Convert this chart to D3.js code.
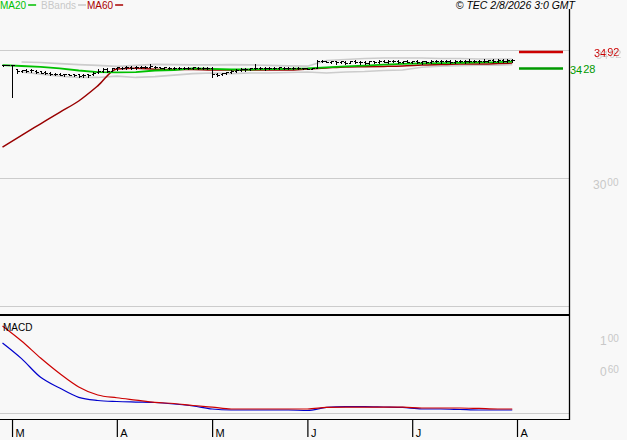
<!DOCTYPE html>
<html><head><meta charset="utf-8">
<script src="https://cdn.jsdelivr.net/npm/d3@7/dist/d3.min.js"></script>
<style>
html,body{margin:0;padding:0;background:#f8f8f8;}
svg{display:block;font-family:"Liberation Sans",Arial,sans-serif;}
</style></head><body>
<svg id="c" width="627" height="440"></svg>
<script>
// ---- data ----
const open  = [34.41,34.41,34.41,34.24,34.20,34.22,34.21,34.20,34.17,34.15,34.12,34.08,34.07,34.06,34.06,34.05,34.05,34.02,34.06,34.05,
34.16,34.20,34.24,34.20,34.28,34.30,34.32,34.33,34.32,34.34,34.33,34.34,34.35,34.32,34.31,34.31,34.30,34.31,34.29,34.30,
34.29,34.31,34.30,34.30,34.30,34.06,34.06,34.10,34.14,34.20,34.22,34.24,34.26,34.28,34.29,34.28,34.30,34.29,34.30,34.31,
34.30,34.31,34.29,34.28,34.29,34.27,34.30,34.58,34.56,34.55,34.56,34.52,34.55,34.50,34.57,34.53,34.55,34.50,34.56,34.53,
34.58,34.55,34.59,34.56,34.53,34.57,34.55,34.57,34.52,34.56,34.53,34.58,34.56,34.59,34.57,34.55,34.58,34.57,34.59,34.58,
34.56,34.59,34.57,34.60,34.58,34.61,34.59,34.60];
const high  = [34.43,34.43,34.42,34.25,34.23,34.24,34.24,34.22,34.20,34.18,34.14,34.10,34.09,34.08,34.08,34.06,34.08,34.06,34.08,34.14,
34.24,34.28,34.28,34.30,34.34,34.35,34.36,34.38,34.36,34.38,34.37,34.45,34.38,34.35,34.34,34.33,34.33,34.34,34.33,34.33,
34.34,34.34,34.33,34.32,34.32,34.10,34.12,34.16,34.22,34.26,34.28,34.30,34.30,34.45,34.33,34.32,34.34,34.33,34.34,34.34,
34.33,34.34,34.32,34.31,34.31,34.31,34.61,34.60,34.58,34.58,34.59,34.58,34.58,34.59,34.60,34.58,34.58,34.58,34.59,34.60,
34.61,34.60,34.62,34.60,34.58,34.60,34.59,34.60,34.58,34.59,34.60,34.62,34.60,34.62,34.61,34.60,34.62,34.61,34.63,34.62,
34.61,34.63,34.62,34.64,34.63,34.64,34.63,34.64];
const low   = [34.39,34.40,33.16,34.12,34.14,34.16,34.13,34.12,34.10,34.08,34.04,34.02,34.01,34.00,34.01,33.98,33.95,33.95,33.96,34.02,
34.12,34.16,34.14,34.18,34.22,34.24,34.26,34.27,34.25,34.30,34.30,34.31,34.30,34.28,34.27,34.26,34.26,34.27,34.24,34.25,
34.25,34.26,34.24,34.26,33.95,33.97,34.02,34.06,34.10,34.16,34.18,34.20,34.22,34.24,34.24,34.23,34.25,34.24,34.26,34.26,
34.25,34.26,34.25,34.24,34.25,34.24,34.29,34.54,34.53,34.50,34.47,34.48,34.46,34.48,34.49,34.47,34.46,34.47,34.48,34.50,
34.52,34.50,34.52,34.49,34.50,34.52,34.49,34.48,34.47,34.50,34.50,34.52,34.51,34.53,34.50,34.50,34.52,34.51,34.53,34.52,
34.51,34.53,34.52,34.54,34.53,34.55,34.54,34.55];
const close = [34.41,34.41,34.40,34.17,34.21,34.18,34.22,34.15,34.12,34.12,34.06,34.06,34.04,34.06,34.03,34.04,33.99,34.04,34.02,34.12,
34.20,34.26,34.18,34.28,34.32,34.30,34.34,34.30,34.34,34.35,34.34,34.36,34.33,34.31,34.32,34.29,34.31,34.30,34.31,34.28,
34.32,34.30,34.29,34.30,34.05,34.04,34.10,34.13,34.20,34.22,34.25,34.27,34.28,34.30,34.28,34.30,34.29,34.31,34.32,34.29,
34.31,34.30,34.28,34.29,34.27,34.28,34.58,34.56,34.55,34.56,34.52,34.56,34.50,34.57,34.52,34.55,34.50,34.56,34.53,34.58,
34.55,34.59,34.56,34.53,34.57,34.55,34.57,34.52,34.56,34.53,34.58,34.56,34.59,34.57,34.55,34.58,34.57,34.59,34.58,34.56,
34.59,34.57,34.60,34.58,34.61,34.59,34.60,34.61];

const indIdx  = [0,4,8,12,16,20,24,28,32,36,40,44,48,52,56,60,64,68,72,76,80,84,88,92,96,100,104,107];
const ma20    = [34.41,34.375,34.34,34.285,34.20,34.14,34.13,34.14,34.20,34.22,34.28,34.26,34.24,34.24,34.25,34.26,34.28,34.32,34.36,34.39,34.43,34.46,34.48,34.49,34.50,34.52,34.53,34.55];
const ma60    = [31.21,31.67,32.12,32.57,33.01,33.60,34.26,34.29,34.25,34.24,34.24,34.22,34.22,34.22,34.22,34.22,34.26,34.30,34.34,34.35,34.36,34.375,34.41,34.43,34.45,34.45,34.47,34.49];
const bbUpper = [null,34.53,34.51,34.47,34.43,34.40,34.36,34.40,34.44,34.43,34.42,34.42,34.43,34.42,34.40,34.38,34.37,34.59,34.63,34.67,34.69,34.69,34.69,34.67,34.67,34.65,34.65,34.65];
const bbLower = [null,34.14,34.06,33.98,33.93,33.93,33.98,33.93,33.96,34.02,34.08,34.10,34.08,34.10,34.10,34.12,34.14,34.10,34.14,34.16,34.20,34.22,34.33,34.37,34.39,34.41,34.41,34.43];
const macdLine   = [0.897,0.695,0.454,0.316,0.195,0.155,0.142,0.135,0.129,0.11,0.084,0.045,0.032,0.032,0.032,0.032,0.026,0.065,0.077,0.077,0.071,0.065,0.045,0.045,0.039,0.032,0.032,0.032];
const signalLine = [1.116,0.922,0.703,0.503,0.33,0.226,0.19,0.16,0.13,0.116,0.09,0.07,0.045,0.045,0.045,0.045,0.045,0.065,0.07,0.07,0.07,0.07,0.058,0.058,0.058,0.052,0.045,0.045];

const monthIdx    = [2,24,44,64,86,108];
const monthLabels = ["M","A","M","J","J","A"];
const priceGrid   = [25,30,35];
const priceLabelTicks = [30];
const macdLabelTicks  = [1.0,0.6];
const levelValues = [34.92,34.28];
const legendNames = ["MA20","BBands","MA60"];
const stampText = "© TEC 2/8/2026 3:0 GMT";

// ---- scales ----
const svg = d3.select("#c");
const plotRight = 569;
const x  = d3.scaleLinear().domain([0,108]).range([2.5,517]);
const yP = d3.scaleLinear().domain([25,35]).range([306.3,50]);
const yM = d3.scaleLinear().domain([0,1]).range([412.5,335]);

svg.append("rect").attr("width",627).attr("height",440).attr("fill","#f8f8f8");

// shadow filter for the red level label
const defs = svg.append("defs");
const f = defs.append("filter").attr("id","sh").attr("x","-20%").attr("y","-20%").attr("width","150%").attr("height","150%");
f.append("feOffset").attr("in","SourceAlpha").attr("dx",2).attr("dy",1.5).attr("result","off");
f.append("feFlood").attr("flood-color","#cccccc").attr("result","col");
f.append("feComposite").attr("in","col").attr("in2","off").attr("operator","in").attr("result","shadow");
const fm = f.append("feMerge");
fm.append("feMergeNode").attr("in","shadow");
fm.append("feMergeNode").attr("in","SourceGraphic");

// price gridlines via axis
const gAx = svg.append("g").attr("transform",`translate(${plotRight},0)`)
  .call(d3.axisLeft(yP).tickValues(priceGrid).tickSize(plotRight).tickFormat(""));
gAx.select(".domain").remove();
gAx.selectAll(".tick line").attr("stroke","#cccccc").attr("shape-rendering","crispEdges");

// macd zero gridline
const gM = svg.append("g").attr("transform",`translate(${plotRight},0)`)
  .call(d3.axisLeft(yM).tickValues([0]).tickSize(plotRight).tickFormat(""));
gM.select(".domain").remove();
gM.selectAll(".tick line").attr("stroke","#cccccc").attr("shape-rendering","crispEdges");

// helper: number with raised decimals
function supNum(g, v, xPos, yBase, fill, big, small, rise){
  const s = v.toFixed(2).split(".");
  const t = g.append("text").attr("x",xPos).attr("y",yBase).attr("fill",fill).attr("font-size",big);
  t.append("tspan").text(s[0]);
  t.append("tspan").attr("font-size",small).attr("dx",1).attr("dy",-rise).text(s[1]);
  return t;
}
// price labels
priceLabelTicks.forEach(v=>supNum(svg, v, 593, yP(v)+11, "#c8c8c8", 12, 10, 3));
// macd labels
macdLabelTicks.forEach(v=>supNum(svg, v, 600, yM(v)+9.5, "#c8c8c8", 12, 10, 3));

// bollinger bands
const lineP = (arr, curve)=> d3.line().defined(d=>d!=null).curve(curve||d3.curveLinear).x((d,i)=>x(indIdx[i])).y(d=>yP(d))(arr);
svg.append("path").attr("d",lineP(bbUpper)).attr("fill","none").attr("stroke","#cccccc").attr("stroke-width",1.6);
svg.append("path").attr("d",lineP(bbLower)).attr("fill","none").attr("stroke","#cccccc").attr("stroke-width",1.6);
// MA lines
svg.append("path").attr("d",lineP(ma60, d3.curveMonotoneX)).attr("fill","none").attr("stroke","#990000").attr("stroke-width",1.5);
svg.append("path").attr("d",lineP(ma20)).attr("fill","none").attr("stroke","#00c000").attr("stroke-width",1.8);

// OHLC bars
const bars = svg.append("g").attr("stroke","#000").attr("stroke-width",1).attr("shape-rendering","crispEdges").attr("fill","none");
close.forEach((c,i)=>{
  const cx = Math.round(x(i))+0.5;
  const p = `M${cx},${Math.round(yP(high[i]))}V${Math.round(yP(low[i]))+1}`+
            `M${cx-2},${Math.round(yP(open[i]))+0.5}H${cx}`+
            `M${cx},${Math.round(yP(c))+0.5}H${cx+2}`;
  bars.append("path").attr("d",p);
});

// level lines & labels
const levelColors = ["#cc0000","#009900"];
levelValues.forEach((v,i)=>{
  svg.append("line").attr("x1",519).attr("x2",563).attr("y1",yP(v)).attr("y2",yP(v))
    .attr("stroke",levelColors[i]).attr("stroke-width",2.5);
});
supNum(svg, levelValues[0], 594, yP(levelValues[0])+5, "#cc0000", 11, 11, 1.5).attr("filter","url(#sh)");
supNum(svg, levelValues[1], 570, yP(levelValues[1])+6, "#009900", 11, 11, 1.5);

// MACD panel
const lineM = (arr)=> d3.line().curve(d3.curveMonotoneX).x((d,i)=>x(indIdx[i])).y(d=>yM(d))(arr);
svg.append("path").attr("d",lineM(macdLine)).attr("fill","none").attr("stroke","#0000cc").attr("stroke-width",1.2);
svg.append("path").attr("d",lineM(signalLine)).attr("fill","none").attr("stroke","#cc0000").attr("stroke-width",1.2);
svg.append("text").attr("x",3).attr("y",331).attr("font-size",10).attr("fill","#000").text("MACD");

// frame lines
svg.append("line").attr("x1",0).attr("x2",plotRight).attr("y1",315).attr("y2",315).attr("stroke","#000").attr("stroke-width",2);
svg.append("line").attr("x1",0).attr("x2",plotRight+1).attr("y1",419.5).attr("y2",419.5).attr("stroke","#000").attr("stroke-width",1);
svg.append("line").attr("x1",plotRight+0.5).attr("x2",plotRight+0.5).attr("y1",9).attr("y2",420).attr("stroke","#000").attr("stroke-width",1.3);

// x axis
const gX = svg.append("g").attr("transform","translate(0,419)")
  .call(d3.axisBottom(x).tickValues(monthIdx).tickSize(18).tickFormat((d,i)=>monthLabels[i]));
gX.select(".domain").remove();
gX.selectAll(".tick line").attr("stroke","#000").attr("stroke-width",1.2);
gX.selectAll(".tick text").attr("text-anchor","start").attr("x",3).attr("y",18).attr("dy",0)
  .attr("font-size",11).attr("font-family","Liberation Sans, Arial, sans-serif").attr("fill","#000");

// legend
const legColors = ["#00c000","#c8c8c8","#aa0000"];
const legX = [0,41,87];
legendNames.forEach((n,i)=>{
  const t = svg.append("text").attr("x",legX[i]).attr("y",9).attr("font-size",10).attr("fill",legColors[i]).text(n);
  const w = t.node().getComputedTextLength();
  svg.append("line").attr("x1",legX[i]+w+2).attr("x2",legX[i]+w+10).attr("y1",5).attr("y2",5)
    .attr("stroke",legColors[i]).attr("stroke-width",1.5);
});
svg.append("text").attr("x",575).attr("y",9).attr("text-anchor","end").attr("font-size",10.5)
  .attr("font-style","italic").attr("fill","#000").text(stampText);
</script>
</body></html>
